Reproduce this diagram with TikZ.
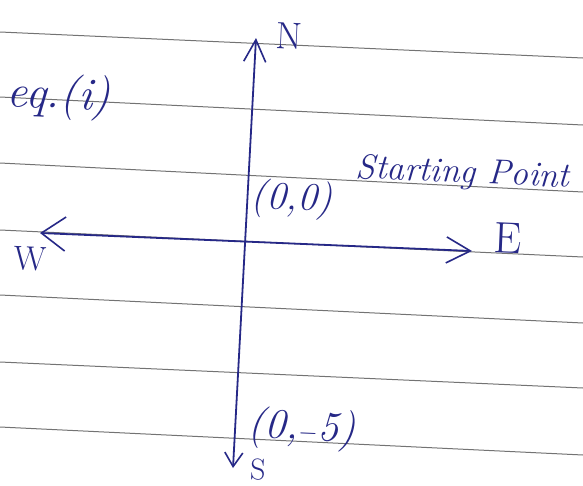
\documentclass[tikz,border=0pt]{standalone}
\usetikzlibrary{arrows.meta}
\definecolor{ink}{RGB}{38,40,135}
\definecolor{rule}{RGB}{115,115,115}
\begin{document}
\begin{tikzpicture}[x=1pt,y=-1pt,
  paperline/.style={draw=rule,line width=1pt},
  axisline/.style={draw=ink,line width=1.8pt,line cap=round},
  hand/.style={text=ink,font=\itshape,inner sep=0pt,rotate=-2.5},
]
\useasboundingbox[fill=white] (0,0) rectangle (583,485);
% ruled paper
\foreach \a/\b in {32/58,97/125,163/192,230/257,295/323,362/388,427/455}
  \draw[paperline] (0,\a) -- (583,\b);
% axis end points
\coordinate (Ntip) at (256,38);
\coordinate (Stip) at (233,468);
\coordinate (Wtip) at (40,233);
\coordinate (Etip) at (472,251);
% axes
\draw[axisline,{Straight Barb[length=14pt,width=18pt,line width=1.6pt]}-{Straight Barb[length=22pt,width=22pt,line width=1.6pt]}] (Stip) -- (Ntip);
\draw[axisline,{Straight Barb[length=24pt,width=34pt,line width=1.6pt]}-{Straight Barb[length=24pt,width=26pt,line width=1.6pt]}] (Wtip) -- (Etip);
% labels
\node[hand,font=\fontsize{38}{38}\selectfont] (N) at (289,36) {N};
\node[hand,font=\fontsize{44}{44}\selectfont] (E) at (508,238) {E};
\node[hand,font=\fontsize{34}{34}\selectfont] (W) at (30,259) {W};
\node[hand,font=\fontsize{30}{30}\selectfont] (S) at (258,470) {S};
\node[hand,font=\fontsize{46}{46}\selectfont\itshape] (eq) at (59,97) {eq.(i)};
\node[hand,font=\fontsize{39}{39}\selectfont\itshape] (origin) at (292,200) {(0,0)};
\node[hand,font=\fontsize{35}{35}\selectfont\itshape] (start) at (463,174) {Starting Point};
\node[hand,font=\fontsize{42}{42}\selectfont\itshape] (end) at (302,429) {(0,$-$5)};
\end{tikzpicture}
\end{document}
